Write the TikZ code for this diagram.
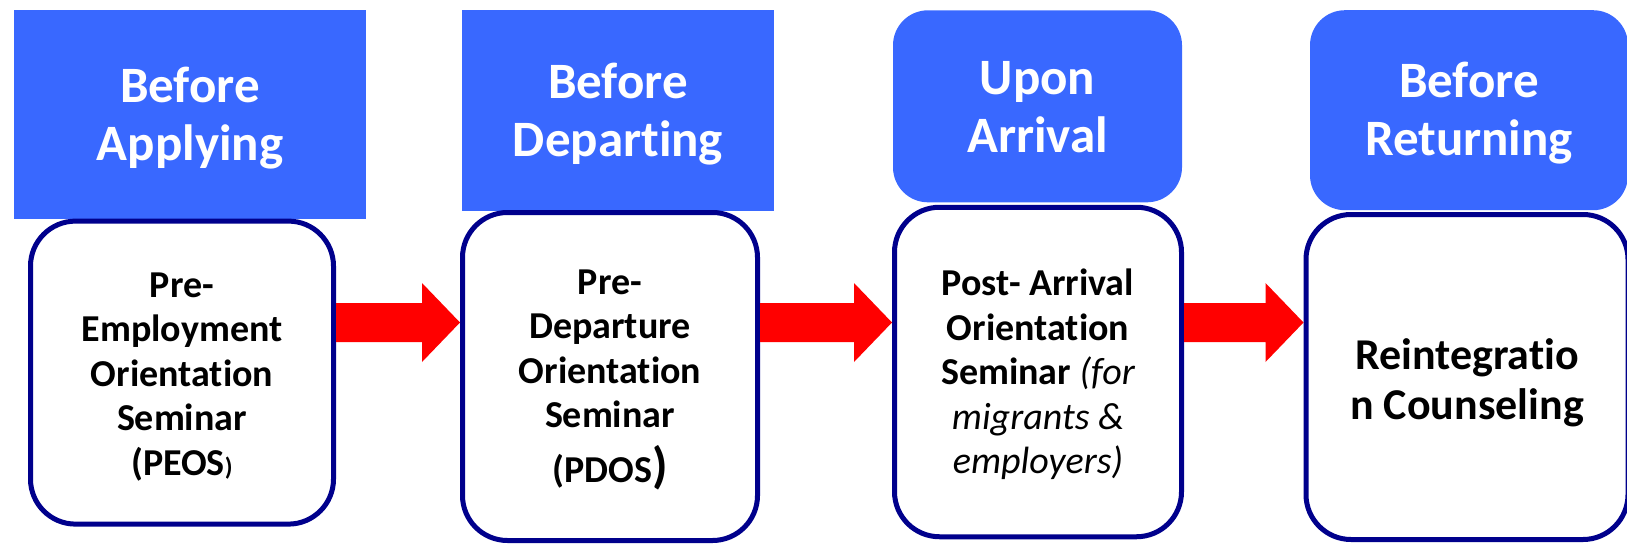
\documentclass[tikz,border=0pt]{standalone}
\usepackage{fontspec}
\setmainfont{Carlito}[Ligatures=NoCommon]
\usetikzlibrary{calc}

\definecolor{phaseblue}{RGB}{57,104,255}
\definecolor{boxnavy}{RGB}{0,0,140}
\definecolor{arrowred}{RGB}{255,0,0}

% text height/depth fix where the last text line sits inside each box
\tikzset{
  phase/.style={fill=phaseblue, text=white, inner sep=0pt, align=center,
    text height=91.5pt, text depth=0pt,
    font=\bfseries\fontsize{51}{58}\selectfont},
  phaseround/.style={phase, rounded corners=35pt},
  program/.style={draw=boxnavy, line width=5pt, fill=white, rounded corners=45pt,
    inner sep=0pt, align=center, text depth=0pt,
    font=\bfseries\fontsize{38}{44.5}\selectfont},
  blockarrow/.style={fill=arrowred},
}

% block arrow from the right side of one box to the left side of the next
\newcommand\blockarrow[2]{%
  \coordinate (#1-s) at (#1.east |- 0,322.5);
  \coordinate (#1-t) at (#2.west |- 0,322.5);
  \fill[blockarrow] ($(#1-s)+(0,-19.5)$) -- ($(#1-t)+(-38,-19.5)$)
    -- ($(#1-t)+(-38,-39.5)$) -- (#1-t) -- ($(#1-t)+(-38,39.5)$)
    -- ($(#1-t)+(-38,19.5)$) -- ($(#1-s)+(0,19.5)$) -- cycle;
}

\begin{document}
\begin{tikzpicture}[x=1pt, y=-1pt]
\useasboundingbox (0,0) rectangle (1627,544);

% phase headers
\node[phase, minimum width=352pt, minimum height=208.6pt] (h1) at (190,114.3) {Before\\Applying};
\node[phase, minimum width=312pt, minimum height=200.6pt] (h2) at (618,110.3) {Before\\Departing};
\node[phaseround, minimum width=289pt, minimum height=192pt] (h3) at (1037.5,106.3) {Upon\\Arrival};
\node[phaseround, minimum width=318pt, minimum height=200pt] (h4) at (1469,110.2) {Before\\Returning};

% programme boxes
\node[program, minimum width=303pt, minimum height=303pt,
  text height=204.8pt] (p1) at (182,372.6)
  {Pre-\\Employment\\Orientation\\Seminar\\(PEOS{\fontsize{25}{25}\selectfont)}};
\node[program, minimum width=295pt, minimum height=328pt,
  text height=211.6pt] (p2) at (610,376.5)
  {Pre-\\Departure\\Orientation\\Seminar\\[10pt](PDOS{\fontsize{50}{50}\selectfont)}};
\node[program, minimum width=287pt, minimum height=329.5pt,
  text height=203.2pt] (p3) at (1038,372)
  {Post- Arrival\\Orientation\\Seminar {\mdseries\itshape(for}\\{\mdseries\itshape migrants \&}\\{\mdseries\itshape employers)}};
\node[program, minimum width=322pt, minimum height=325pt,
  text height=85.6pt,
  font=\bfseries\fontsize{44}{50}\selectfont] (p4) at (1467,377)
  {Reintegratio\\n Counseling};

% arrows between the programmes
\blockarrow{p1}{p2}
\blockarrow{p2}{p3}
\blockarrow{p3}{p4}
\end{tikzpicture}
\end{document}
